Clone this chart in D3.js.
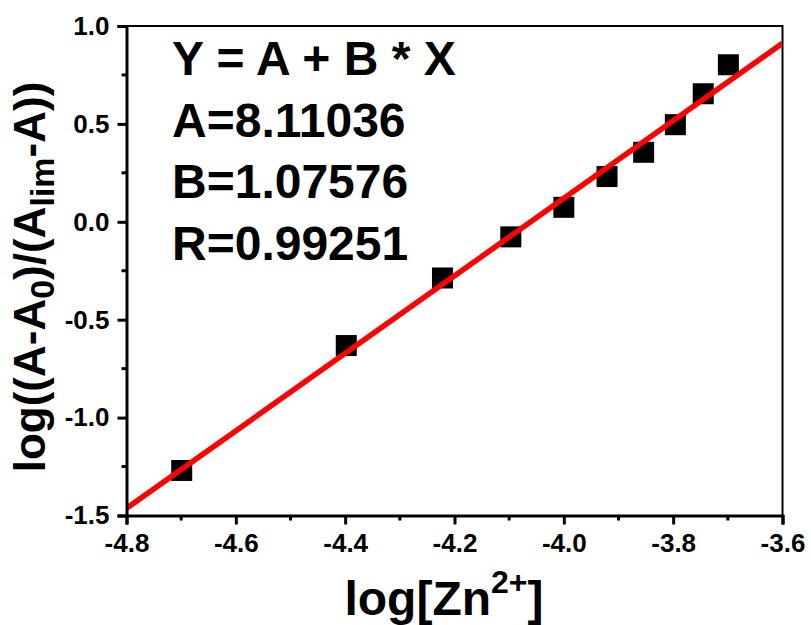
<!DOCTYPE html>
<html>
<head>
<meta charset="utf-8">
<script src="https://cdn.jsdelivr.net/npm/d3@7"></script>
<style>
  html, body { margin: 0; padding: 0; background: #fff; }
  svg { display: block; }
  text { font-family: "Liberation Sans", Arial, sans-serif; font-weight: bold; fill: #000; }
  .axis text { font-size: 26px; }
</style>
</head>
<body>
<svg id="chart" width="811" height="625"></svg>
<script>
// Measured points: log of zinc concentration vs. log((A-A0)/(Alim-A))
const logZn = [-4.699, -4.398, -4.222, -4.097, -4.0, -3.921, -3.854, -3.796, -3.745, -3.699];
const logRatio = [-1.27, -0.632, -0.287, -0.077, 0.074, 0.231, 0.355, 0.496, 0.654, 0.802];

// Fit summary printed in the plot
const fitLines = ["Y = A + B * X", "A=8.11036", "B=1.07576", "R=0.99251"];

// Axis ticks
const xTicks = [-4.8, -4.6, -4.4, -4.2, -4.0, -3.8, -3.6];
const xMinor = [-4.7, -4.5, -4.3, -4.1, -3.9, -3.7];
const yTicks = [-1.5, -1.0, -0.5, 0.0, 0.5, 1.0];
const yMinor = [-1.25, -0.75, -0.25, 0.25, 0.75];

const svg = d3.select("#chart");
const plot = { left: 126.5, right: 782.5, top: 26, bottom: 515.5 };

const x = d3.scaleLinear().domain([-4.8, -3.6]).range([plot.left, plot.right]);
const y = d3.scaleLinear().domain([-1.5, 1.0]).range([plot.bottom, plot.top]);

// Least-squares line through the measured points
const mx = d3.mean(logZn), my = d3.mean(logRatio);
const sxy = d3.sum(logZn, (v, i) => (v - mx) * (logRatio[i] - my));
const sxx = d3.sum(logZn, v => (v - mx) * (v - mx));
const slope = sxy / sxx;
const intercept = my - slope * mx;

const fmt = d => d3.format(".1f")(d).replace("\u2212", "-");

// Frame: thin top/right border
svg.append("path")
  .attr("d", `M${plot.left},${plot.top}H${plot.right}V${plot.bottom}`)
  .attr("fill", "none").attr("stroke", "#000").attr("stroke-width", 2);

// Data squares
const sq = 21;
svg.append("g").selectAll("rect")
  .data(logZn.map((v, i) => [v, logRatio[i]]))
  .join("rect")
  .attr("x", d => x(d[0]) - sq / 2)
  .attr("y", d => y(d[1]) - sq / 2)
  .attr("width", sq).attr("height", sq)
  .attr("fill", "#000");

// Fitted line
svg.append("defs").append("clipPath").attr("id", "clip")
  .append("rect").attr("x", plot.left).attr("y", plot.top)
  .attr("width", plot.right - plot.left).attr("height", plot.bottom - plot.top);

const domainX = x.domain();
svg.append("line")
  .attr("clip-path", "url(#clip)")
  .attr("x1", x(domainX[0])).attr("y1", y(intercept + slope * domainX[0]))
  .attr("x2", x(domainX[1])).attr("y2", y(intercept + slope * domainX[1]))
  .attr("stroke", "#ff0000").attr("stroke-width", 5.5);

// Bottom axis
const xAxis = svg.append("g").attr("class", "axis")
  .attr("transform", `translate(0,${plot.bottom})`)
  .call(d3.axisBottom(x).tickValues(xTicks).tickSize(9).tickPadding(9).tickFormat(fmt));
xAxis.attr("font-size", 26).attr("font-family", '"Liberation Sans", Arial, sans-serif');
xAxis.select(".domain").attr("stroke-width", 3);
xAxis.selectAll(".tick line").attr("stroke-width", 3);
xAxis.selectAll(".tick text").attr("font-size", 26).attr("font-weight", "bold");
xAxis.append("g").selectAll("line").data(xMinor).join("line")
  .attr("x1", d => x(d)).attr("x2", d => x(d)).attr("y1", 0).attr("y2", 5)
  .attr("stroke", "#000").attr("stroke-width", 3);

// Left axis
const yAxis = svg.append("g").attr("class", "axis")
  .attr("transform", `translate(${plot.left},0)`)
  .call(d3.axisLeft(y).tickValues(yTicks).tickSize(9).tickPadding(8).tickFormat(fmt));
yAxis.attr("font-size", 26).attr("font-family", '"Liberation Sans", Arial, sans-serif');
yAxis.select(".domain").attr("stroke-width", 3);
yAxis.selectAll(".tick line").attr("stroke-width", 3);
yAxis.selectAll(".tick text").attr("font-size", 26).attr("font-weight", "bold");
yAxis.append("g").selectAll("line").data(yMinor).join("line")
  .attr("y1", d => y(d)).attr("y2", d => y(d)).attr("x1", 0).attr("x2", -5)
  .attr("stroke", "#000").attr("stroke-width", 3);

// Fit summary text
svg.append("g").selectAll("text").data(fitLines).join("text")
  .attr("x", 172).attr("y", (d, i) => 75 + i * 61.7)
  .style("font-size", "48px")
  .text(d => d);

// X axis title: log[Zn2+]
const xt = svg.append("text").attr("x", 444).attr("y", 615)
  .attr("text-anchor", "middle").style("font-size", "48px");
xt.append("tspan").text("log[Zn");
xt.append("tspan").style("font-size", "32px").attr("dy", -22).text("2+");
xt.append("tspan").attr("dy", 22).text("]");

// Y axis title: log((A-A0)/(Alim-A))
const yt = svg.append("text")
  .attr("transform", `translate(45,277) rotate(-90)`)
  .attr("text-anchor", "middle").style("font-size", "44px");
yt.append("tspan").text("log((A-A");
yt.append("tspan").style("font-size", "34px").attr("dy", 9).text("0");
yt.append("tspan").attr("dy", -9).text(")/(A");
yt.append("tspan").style("font-size", "34px").attr("dy", 9).text("lim");
yt.append("tspan").attr("dy", -9).text("-A))");
</script>
</body>
</html>
